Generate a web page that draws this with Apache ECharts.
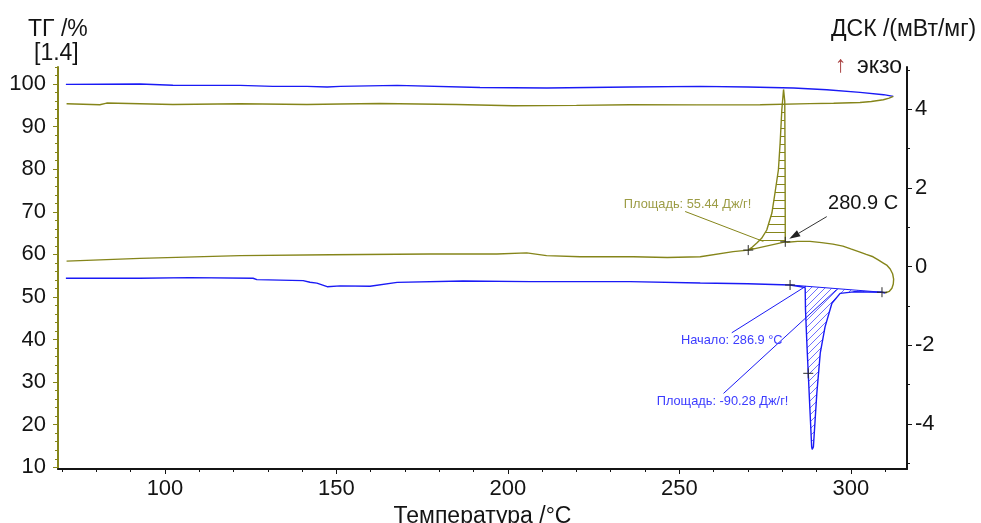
<!DOCTYPE html>
<html>
<head>
<meta charset="utf-8">
<script src="https://cdn.jsdelivr.net/npm/echarts@6/dist/echarts.min.js"></script>
<style>
  html, body { margin: 0; padding: 0; background: #fff; }
  #chart { width: 981px; height: 523px; }
</style>
</head>
<body>
<div id="chart"></div>
<script>
// ТГ, нагрев (температура, °C / масса, %)
const tgHeatT = [71.1, 92.7, 102.3, 121.9, 131.5, 141.4, 147.3, 151.1, 167.7, 191.9, 211.4, 235.6, 256.1, 270.0, 283.3, 293.0, 302.7, 309.6, 312.4];
const tgHeatV = [99.92, 100.0, 99.70, 99.68, 99.45, 99.44, 99.30, 99.44, 99.68, 99.20, 99.06, 99.30, 99.44, 99.30, 99.06, 98.66, 98.03, 97.50, 97.09];

// ТГ, охлаждение
const tgCoolT = [312.4, 311.2, 309.5, 306.0, 302.7, 295.0, 288.1, 273.6, 255.0, 235.6, 220.0, 201.5, 185.0, 162.7, 151.1, 141.4, 121.9, 102.3, 83.0, 81.0, 71.3];
const tgCoolV = [97.09, 96.70, 96.30, 95.90, 95.68, 95.50, 95.40, 95.15, 95.10, 95.14, 95.00, 94.90, 95.20, 95.44, 95.30, 95.20, 95.37, 95.20, 95.53, 95.14, 95.37];

// ДСК, нагрев (мВт/мг)
const dscHeatT = [71.1, 92.7, 107.3, 125.7, 126.8, 140.3, 142.3, 144.3, 147.3, 151.1, 159.8, 167.7, 186.9, 206.5, 235.6, 256.1, 270.0, 282.3, 285.5, 286.7, 286.8, 287.2, 287.6, 288.1, 288.6, 288.75, 289.1, 289.6, 290.1, 291.1, 292.5, 294.5, 296.9, 300.8, 309.1, 310.0];
const dscHeatV = [-0.295, -0.295, -0.28, -0.295, -0.33, -0.356, -0.397, -0.42, -0.51, -0.49, -0.50, -0.40, -0.364, -0.38, -0.38, -0.415, -0.435, -0.466, -0.51, -0.534, -1.10, -1.95, -2.71, -3.65, -4.58, -4.64, -4.58, -3.90, -3.22, -2.20, -1.53, -0.93, -0.68, -0.64, -0.65, -0.67];

// ДСК, охлаждение
const dscCoolT = [310.0, 311.2, 312.0, 312.4, 312.5, 312.2, 311.5, 310.6, 309.5, 308.0, 306.5, 304.5, 302.7, 300.0, 297.7, 294.8, 291.5, 288.1, 284.5, 281.5, 280.9, 280.85, 280.75, 280.4, 279.9, 279.4, 278.9, 277.9, 277.0, 275.5, 274.0, 272.6, 271.3, 270.1, 265.7, 256.1, 246.5, 236.6, 221.1, 211.3, 205.5, 196.8, 177.3, 148.1, 121.9, 92.7, 71.3];
const dscCoolV = [-0.67, -0.63, -0.55, -0.44, -0.32, -0.18, -0.06, 0.03, 0.09, 0.17, 0.25, 0.31, 0.37, 0.45, 0.52, 0.57, 0.61, 0.64, 0.64, 0.62, 0.63, 2.50, 4.20, 4.50, 3.99, 3.14, 2.46, 1.87, 1.36, 0.93, 0.72, 0.60, 0.50, 0.42, 0.38, 0.25, 0.23, 0.25, 0.25, 0.28, 0.35, 0.32, 0.32, 0.30, 0.28, 0.21, 0.14];

// Точки интегрирования пиков
const exoMarkT = [270.1, 280.9];
const exoMarkV = [0.42, 0.63];
const endoMarkT = [282.3, 287.6, 309.1];
const endoMarkV = [-0.466, -2.71, -0.65];
const onsetT = 286.9;

// Подписи
const exoAreaText = 'Площадь: 55.44 Дж/г!';
const exoPeakText = '280.9 C';
const onsetText = 'Начало: 286.9 °C';
const endoAreaText = 'Площадь: -90.28 Дж/г!';

// Деления осей
const xLabelTicks = [100, 150, 200, 250, 300];
const xMinorTicks = [70, 80, 90, 100, 110, 120, 130, 140, 150, 160, 170, 180, 190, 200, 210, 220, 230, 240, 250, 260, 270, 280, 290, 300, 310];
const tgLabelTicks = [10, 20, 30, 40, 50, 60, 70, 80, 90, 100];
const tgMinorTicks = [12, 14, 16, 18, 22, 24, 26, 28, 32, 34, 36, 38, 42, 44, 46, 48, 52, 54, 56, 58, 62, 64, 66, 68, 72, 74, 76, 78, 82, 84, 86, 88, 92, 94, 96, 98, 102, 104];
const dscLabelTicks = [-4, -2, 0, 2, 4];
const dscMinorTicks = [-5, -3, -1, 1, 3, 5];

const OLIVE = '#85851a';
const OLIVE_TEXT = '#9c9c45';
const BLUE = '#1a1af5';
const BLUE_TEXT = '#3c3cff';
const INK = '#141414';
const FONT = '"Liberation Sans", Arial, sans-serif';

const zip = (t, v) => t.map((x, i) => [x, v[i]]);

// Штриховка площади пика
function hatch(kind, color, step) {
  const c = document.createElement('canvas');
  c.width = step; c.height = step;
  const g = c.getContext('2d');
  g.strokeStyle = color;
  g.lineWidth = 1;
  g.beginPath();
  if (kind === 'h') {
    g.moveTo(0, 0.5); g.lineTo(step, 0.5);
  } else {
    for (const k of [-step, 0, step]) { g.moveTo(k, step); g.lineTo(k + step, 0); }
  }
  g.stroke();
  return { image: c, repeat: 'repeat' };
}

const dscCool = zip(dscCoolT, dscCoolV);
const dscHeat = zip(dscHeatT, dscHeatV);

// Контур экзопика: от 280.9 по кривой до 270.1, замыкание по базовой линии
const exoFrom = dscCoolT.indexOf(exoMarkT[1]);
const exoTo = dscCoolT.indexOf(exoMarkT[0]);
const exoRegion = dscCool.slice(exoFrom, exoTo + 1);

// Контур эндопика: кривая между точками интегрирования
const endoRegion = dscHeat.filter(p => p[0] >= endoMarkT[0] && p[0] <= endoMarkT[2]);
endoRegion.push([endoMarkT[2], endoMarkV[2]]);

// Значение базовой линии эндопика при температуре начала
const onsetV = endoMarkV[0] + (endoMarkV[2] - endoMarkV[0]) * (onsetT - endoMarkT[0]) / (endoMarkT[2] - endoMarkT[0]);

function lineSeries(data, color, yIdx, width) {
  return {
    type: 'line', xAxisIndex: 0, yAxisIndex: yIdx, data: data,
    showSymbol: false, symbol: 'none', silent: true, z: 3,
    lineStyle: { color: color, width: width || 1.4 },
    itemStyle: { color: color }
  };
}

function regionSeries(points, fill) {
  return {
    type: 'custom', xAxisIndex: 0, yAxisIndex: 2, silent: true, z: 1,
    data: [points[0]],
    renderItem: (params, api) => ({
      type: 'polygon',
      shape: { points: points.map(p => api.coord(p)) },
      style: { fill: fill, stroke: null }
    })
  };
}

// Выноски: [T1, v1, T2, v2]
const leaders = [
  [251.7, 1.40, 274.5, 0.64],
  [265.3, -1.68, onsetT, onsetV],
  [262.9, -3.22, 295.9, -0.58]
];
const leaderColors = [OLIVE, BLUE, BLUE];

// Тексты у выносок: [T, v]
const notes = [
  [252.4, 1.57],
  [265.3, -1.865],
  [262.6, -3.435]
];
const noteTexts = [exoAreaText, onsetText, endoAreaText];
const noteColors = [OLIVE_TEXT, BLUE_TEXT, BLUE_TEXT];

const crosses = zip(exoMarkT, exoMarkV).concat(zip(endoMarkT, endoMarkV));

const chart = echarts.init(document.getElementById('chart'), null, { renderer: 'canvas' });

chart.setOption({
  animation: false,
  backgroundColor: '#ffffff',
  textStyle: { fontFamily: FONT },
  grid: { left: 58, right: 74, top: 67, bottom: 54, containLabel: false, outerBoundsMode: 'none' },
  xAxis: [
    {
      type: 'value', min: 68.8, max: 316.4, position: 'bottom',
      name: 'Температура /°C', nameLocation: 'middle', nameGap: 31,
      nameTextStyle: { fontFamily: FONT, fontSize: 23, color: INK },
      axisLine: { show: true, onZero: false, lineStyle: { color: INK, width: 2 } },
      axisTick: { show: true, length: 5, customValues: xLabelTicks, lineStyle: { color: INK, width: 1 } },
      axisLabel: { show: true, customValues: xLabelTicks, fontFamily: FONT, fontSize: 22, color: INK, margin: 9 },
      splitLine: { show: false }
    },
    {
      type: 'value', min: 68.8, max: 316.4, position: 'bottom',
      axisLine: { show: false, onZero: false },
      axisTick: { show: true, length: 3, customValues: xMinorTicks, lineStyle: { color: INK, width: 1 } },
      axisLabel: { show: false },
      splitLine: { show: false }
    }
  ],
  yAxis: [
    {
      type: 'value', min: 9.6, max: 104, position: 'left',
      axisLine: { show: true, onZero: false, lineStyle: { color: OLIVE, width: 2 } },
      axisTick: { show: true, length: 5, customValues: tgLabelTicks, lineStyle: { color: OLIVE, width: 1 } },
      axisLabel: { show: true, customValues: tgLabelTicks, fontFamily: FONT, fontSize: 22, color: INK, margin: 12 },
      splitLine: { show: false }
    },
    {
      type: 'value', min: 9.6, max: 104, position: 'left',
      axisLine: { show: false, onZero: false },
      axisTick: { show: true, length: 3, customValues: tgMinorTicks, lineStyle: { color: OLIVE, width: 1 } },
      axisLabel: { show: false },
      splitLine: { show: false }
    },
    {
      type: 'value', min: -5.14, max: 5.07, position: 'right',
      axisLine: { show: true, onZero: false, lineStyle: { color: INK, width: 2 } },
      axisTick: { show: true, length: 5, customValues: dscLabelTicks, lineStyle: { color: INK, width: 1 } },
      axisLabel: { show: true, customValues: dscLabelTicks, fontFamily: FONT, fontSize: 22, color: INK, margin: 8 },
      splitLine: { show: false }
    },
    {
      type: 'value', min: -5.14, max: 5.07, position: 'right',
      axisLine: { show: false, onZero: false },
      axisTick: { show: true, length: 3, customValues: dscMinorTicks, lineStyle: { color: INK, width: 1 } },
      axisLabel: { show: false },
      splitLine: { show: false }
    }
  ],
  graphic: [
    { type: 'text', left: 28, top: 18, style: { text: 'ТГ /%', font: '23px ' + FONT, fill: INK } },
    { type: 'text', left: 34, top: 42, style: { text: '[1.4]', font: '23px ' + FONT, fill: INK } },
    { type: 'text', left: 831, top: 18, style: { text: 'ДСК /(мВт/мг)', font: '23px ' + FONT, fill: INK } },
    { type: 'text', left: 835, top: 54, style: { text: '↑', font: '23px ' + FONT, fill: '#a84040' } },
    { type: 'text', left: 857, top: 55, style: { text: 'экзо', font: '23px ' + FONT, fill: INK } }
  ],
  series: [
    regionSeries(exoRegion, hatch('h', OLIVE, 8)),
    regionSeries(endoRegion, hatch('d', '#7070ff', 7)),
    lineSeries(zip(tgHeatT, tgHeatV), BLUE, 0),
    lineSeries(zip(tgCoolT, tgCoolV), OLIVE, 0),
    lineSeries(dscHeat, BLUE, 2),
    lineSeries(dscCool, OLIVE, 2),
    lineSeries(zip(exoMarkT, exoMarkV), OLIVE, 2, 1.2),
    lineSeries([[endoMarkT[0], endoMarkV[0]], [endoMarkT[2], endoMarkV[2]]], BLUE, 2, 1),
    {
      // выноски
      type: 'custom', xAxisIndex: 0, yAxisIndex: 2, silent: true, z: 4,
      data: leaders,
      encode: { x: [0, 2], y: [1, 3] },
      renderItem: (params, api) => {
        const a = api.coord([api.value(0), api.value(1)]);
        const b = api.coord([api.value(2), api.value(3)]);
        return { type: 'line', shape: { x1: a[0], y1: a[1], x2: b[0], y2: b[1] },
          style: { stroke: leaderColors[params.dataIndex], lineWidth: 1 } };
      }
    },
    {
      // стрелка к температуре пика
      type: 'custom', xAxisIndex: 0, yAxisIndex: 2, silent: true, z: 5,
      data: [[293.0, 1.27, exoMarkT[1], exoMarkV[1]]],
      encode: { x: [0, 2], y: [1, 3] },
      renderItem: (params, api) => {
        const a = api.coord([api.value(0), api.value(1)]);
        const m = api.coord([api.value(2), api.value(3)]);
        const b = [m[0] + 4, m[1] - 3];
        const dx = b[0] - a[0], dy = b[1] - a[1];
        const L = Math.hypot(dx, dy), ux = dx / L, uy = dy / L;
        const h = 11, w = 3.5;
        const base = [b[0] - ux * h, b[1] - uy * h];
        return { type: 'group', children: [
          { type: 'line', shape: { x1: a[0], y1: a[1], x2: base[0], y2: base[1] }, style: { stroke: '#333', lineWidth: 1 } },
          { type: 'polygon', shape: { points: [b, [base[0] - uy * w, base[1] + ux * w], [base[0] + uy * w, base[1] - ux * w]] }, style: { fill: '#222' } }
        ] };
      }
    },
    {
      // кресты точек интегрирования
      type: 'custom', xAxisIndex: 0, yAxisIndex: 2, silent: true, z: 6,
      data: crosses,
      renderItem: (params, api) => {
        const p = api.coord([api.value(0), api.value(1)]);
        const s = 5;
        return { type: 'group', children: [
          { type: 'line', shape: { x1: p[0] - s, y1: p[1], x2: p[0] + s, y2: p[1] }, style: { stroke: '#2a2a2a', lineWidth: 1 } },
          { type: 'line', shape: { x1: p[0], y1: p[1] - s, x2: p[0], y2: p[1] + s }, style: { stroke: '#2a2a2a', lineWidth: 1 } }
        ] };
      }
    },
    {
      // подписи площадей и начала
      type: 'custom', xAxisIndex: 0, yAxisIndex: 2, silent: true, z: 7,
      data: notes,
      renderItem: (params, api) => {
        const p = api.coord([api.value(0), api.value(1)]);
        return { type: 'text', x: p[0], y: p[1],
          style: { text: noteTexts[params.dataIndex], fill: noteColors[params.dataIndex],
            font: '12.8px ' + FONT, align: 'center', verticalAlign: 'middle' } };
      }
    },
    {
      // температура пика кристаллизации
      type: 'custom', xAxisIndex: 0, yAxisIndex: 2, silent: true, z: 7,
      data: [[303.6, 1.61]],
      renderItem: (params, api) => {
        const p = api.coord([api.value(0), api.value(1)]);
        return { type: 'text', x: p[0], y: p[1],
          style: { text: exoPeakText, fill: INK, font: '20px ' + FONT, align: 'center', verticalAlign: 'middle' } };
      }
    }
  ]
});
</script>
</body>
</html>
